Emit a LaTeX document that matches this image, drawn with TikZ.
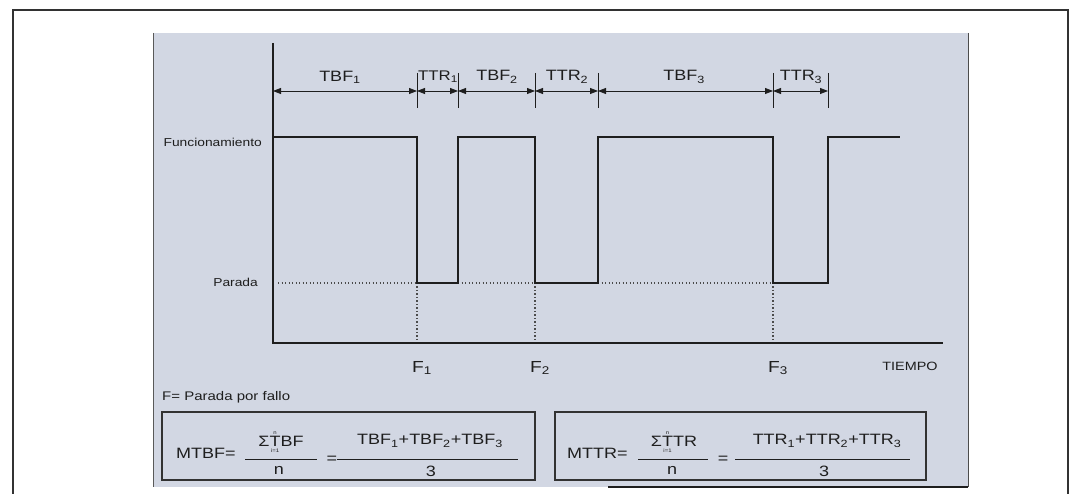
\documentclass[tikz,border=0pt]{standalone}
\usepackage{fontspec}
\setmainfont{Liberation Sans}[FakeStretch=1.2]
\usetikzlibrary{arrows.meta}
\definecolor{panel}{RGB}{210,215,227}
\definecolor{ink}{RGB}{30,30,30}
\definecolor{frameink}{RGB}{50,50,50}
\newcommand{\fs}[1]{\fontsize{#1}{#1}\selectfont}
\newcommand{\stk}[1]{$\mathop{\hbox{#1}}\limits_{\hbox{\fs{5}i=1}}^{\hbox{\fs{5}n}}$}
\tikzset{
  lbl/.style={inner sep=0pt, text=ink},
  dimlbl/.style={lbl, font=\fs{15}},
  smalllbl/.style={lbl, font=\fs{11.5}},
  flbl/.style={lbl, font=\fs{16}},
  eqlbl/.style={lbl, font=\fs{15}},
  signal/.style={ink, line width=2pt},
  axisline/.style={ink, line width=1.4pt},
  guide/.style={ink!80, line width=1.3pt, dash pattern=on 1.3pt off 2.2pt},
  dimline/.style={ink, line width=0.8pt, {Triangle[length=8pt,width=6pt]}-{Triangle[length=8pt,width=6pt]}},
  tick/.style={ink, line width=0.9pt},
  formbox/.style={draw=frameink, line width=1.4pt, inner sep=0pt},
  fracbar/.style={ink, line width=0.9pt}
}
\begin{document}
\begin{tikzpicture}[x=1pt,y=-1pt]
\useasboundingbox (0,0) rectangle (1077,494);
% outer frame (open at bottom)
\draw[frameink, line width=2pt] (13,494) -- (13,10) -- (1068,10) -- (1068,494);
% grey panel
\fill[panel] (153,33) rectangle (968,487);
\draw[gray!70!black, line width=0.8pt] (153,33) -- (153,487);
\draw[gray!60!black, line width=1pt] (968,33) -- (968,487);
\draw[ink, line width=1.6pt] (608,487) -- (968,487);

% key coordinates
\coordinate (ax) at (273,43);
\coordinate (o) at (273,343);
\coordinate (xe) at (943,343);
\coordinate (s0) at (273,137);
\coordinate (f1t) at (417,137); \coordinate (f1b) at (417,283); \coordinate (f1a) at (417,343);
\coordinate (r1b) at (458,283); \coordinate (r1t) at (458,137);
\coordinate (f2t) at (535,137); \coordinate (f2b) at (535,283); \coordinate (f2a) at (535,343);
\coordinate (r2b) at (598,283); \coordinate (r2t) at (598,137);
\coordinate (f3t) at (773,137); \coordinate (f3b) at (773,283); \coordinate (f3a) at (773,343);
\coordinate (r3b) at (828,283); \coordinate (r3t) at (828,137);
\coordinate (se) at (900,137);
\coordinate (p0) at (278,283);

% dotted guides
\draw[guide] (p0) -- (f1b);
\draw[guide] (r1b) -- (f2b);
\draw[guide] (r2b) -- (f3b);
\draw[guide] (f1b) -- (f1a);
\draw[guide] (f2b) -- (f2a);
\draw[guide] (f3b) -- (f3a);

% axes
\draw[axisline] (ax) -- (o) -- (xe);

% signal
\draw[signal, line join=miter] (s0) -- (f1t) -- (f1b) -- (r1b) -- (r1t) -- (f2t) -- (f2b) -- (r2b) -- (r2t) -- (f3t) -- (f3b) -- (r3b) -- (r3t) -- (se);

% dimension ticks
\foreach \x/\n in {417/a,458/b,535/c,598/d,773/e,828/f}{
  \coordinate (t\n u) at (\x,73);
  \coordinate (t\n d) at (\x,108);
  \draw[tick] (t\n u) -- (t\n d);
}
\coordinate (d0) at (273,91);
\coordinate (d1) at (417,91);
\coordinate (d2) at (458,91);
\coordinate (d3) at (535,91);
\coordinate (d4) at (598,91);
\coordinate (d5) at (773,91);
\coordinate (d6) at (828,91);
\draw[dimline] (d0) -- (d1);
\draw[dimline] (d1) -- (d2);
\draw[dimline] (d2) -- (d3);
\draw[dimline] (d3) -- (d4);
\draw[dimline] (d4) -- (d5);
\draw[dimline] (d5) -- (d6);

% dimension labels
\node[dimlbl] (tbf1) at (340,77) {TBF\textsubscript{1}};
\node[dimlbl, font=\fs{14}] (ttr1) at (438,77) {TTR\textsubscript{1}};
\node[dimlbl] (tbf2) at (497,77) {TBF\textsubscript{2}};
\node[dimlbl] (ttr2) at (567,77) {TTR\textsubscript{2}};
\node[dimlbl] (tbf3) at (684,77) {TBF\textsubscript{3}};
\node[dimlbl] (ttr3) at (801,77) {TTR\textsubscript{3}};

% level labels
\node[smalllbl, anchor=east] (func) at (262,142) {Funcionamiento};
\node[smalllbl, anchor=east] (parada) at (258,282) {Parada};

% failure labels
\node[flbl] (F1) at (422,368) {F\textsubscript{1}};
\node[flbl] (F2) at (540,368) {F\textsubscript{2}};
\node[flbl] (F3) at (778,368) {F\textsubscript{3}};
\node[smalllbl, font=\fs{12}] (tiempo) at (910,366) {TIEMPO};

\node[smalllbl, font=\fs{12.5}, anchor=west] (legend) at (162,397) {F= Parada por fallo};

% formula boxes
\node[formbox, minimum width=373pt, minimum height=68pt] (box1) at (348.5,446) {};
\node[formbox, minimum width=371pt, minimum height=68pt] (box2) at (740.5,446) {};

% formula 1
\node[eqlbl, anchor=west] (mtbf) at (176,453) {MTBF=};
\node[eqlbl] (n1num) at (281,442) {Σ\stk{T}BF};
\draw[fracbar] (245,459) -- (317,459);
\node[eqlbl] (n1den) at (279,470) {n};
\node[eqlbl] (eq1) at (332,460) {=};
\node[eqlbl] (s1num) at (430,441) {TBF\textsubscript{1}+TBF\textsubscript{2}+TBF\textsubscript{3}};
\draw[fracbar] (337,459) -- (518,459);
\node[eqlbl] (s1den) at (431,471) {3};

% formula 2
\node[eqlbl, anchor=west] (mttr) at (567,453) {MTTR=};
\node[eqlbl] (n2num) at (674,442) {Σ\stk{T}TR};
\draw[fracbar] (638,459) -- (708,459);
\node[eqlbl] (n2den) at (672,470) {n};
\node[eqlbl] (eq2) at (723,460) {=};
\node[eqlbl] (s2num) at (827,441) {TTR\textsubscript{1}+TTR\textsubscript{2}+TTR\textsubscript{3}};
\draw[fracbar] (735,459) -- (910,459);
\node[eqlbl] (s2den) at (824,471) {3};
\end{tikzpicture}
\end{document}
